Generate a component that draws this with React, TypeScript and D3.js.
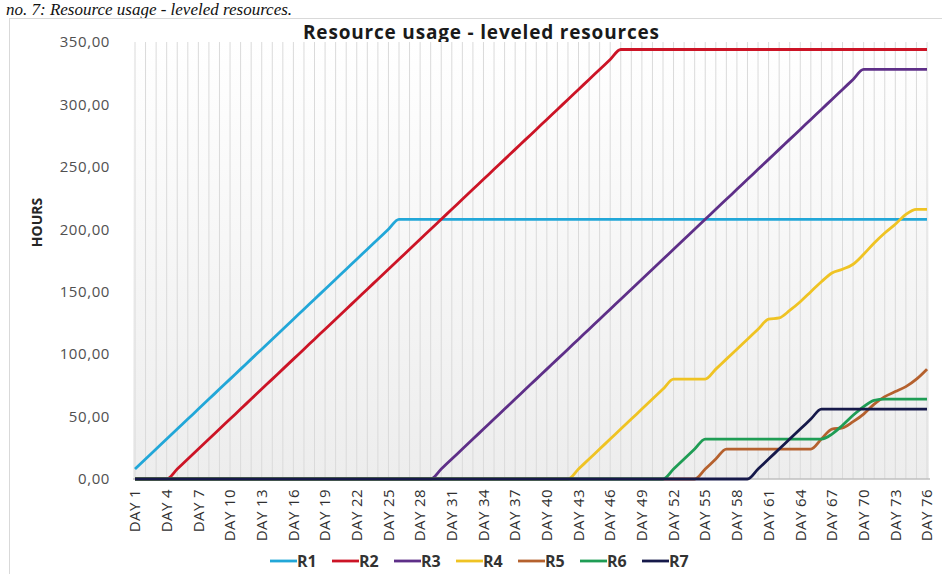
import * as d3 from 'd3'

// categories: DAY 1 .. DAY 76
const days = d3.range(1, 77).map(d => `DAY ${d}`)

const seriesNames = ['R1', 'R2', 'R3', 'R4', 'R5', 'R6', 'R7']
const seriesColors = ['#22a7d8', '#cc1426', '#5e2f88', '#efc323', '#b5612e', '#1f9d55', '#16194a']

// hours per day (rows of 10 days)
const r1 = [
  8, 16, 24, 32, 40, 48, 56, 64, 72, 80,
  88, 96, 104, 112, 120, 128, 136, 144, 152, 160,
  168, 176, 184, 192, 200, 208, 208, 208, 208, 208,
  208, 208, 208, 208, 208, 208, 208, 208, 208, 208,
  208, 208, 208, 208, 208, 208, 208, 208, 208, 208,
  208, 208, 208, 208, 208, 208, 208, 208, 208, 208,
  208, 208, 208, 208, 208, 208, 208, 208, 208, 208,
  208, 208, 208, 208, 208, 208,
]
const r2 = [
  0, 0, 0, 0, 8, 16, 24, 32, 40, 48,
  56, 64, 72, 80, 88, 96, 104, 112, 120, 128,
  136, 144, 152, 160, 168, 176, 184, 192, 200, 208,
  216, 224, 232, 240, 248, 256, 264, 272, 280, 288,
  296, 304, 312, 320, 328, 336, 344, 344, 344, 344,
  344, 344, 344, 344, 344, 344, 344, 344, 344, 344,
  344, 344, 344, 344, 344, 344, 344, 344, 344, 344,
  344, 344, 344, 344, 344, 344,
]
const r3 = [
  0, 0, 0, 0, 0, 0, 0, 0, 0, 0,
  0, 0, 0, 0, 0, 0, 0, 0, 0, 0,
  0, 0, 0, 0, 0, 0, 0, 0, 0, 8,
  16, 24, 32, 40, 48, 56, 64, 72, 80, 88,
  96, 104, 112, 120, 128, 136, 144, 152, 160, 168,
  176, 184, 192, 200, 208, 216, 224, 232, 240, 248,
  256, 264, 272, 280, 288, 296, 304, 312, 320, 328,
  328, 328, 328, 328, 328, 328,
]
const r4 = [
  0, 0, 0, 0, 0, 0, 0, 0, 0, 0,
  0, 0, 0, 0, 0, 0, 0, 0, 0, 0,
  0, 0, 0, 0, 0, 0, 0, 0, 0, 0,
  0, 0, 0, 0, 0, 0, 0, 0, 0, 0,
  0, 0, 8, 16, 24, 32, 40, 48, 56, 64,
  72, 80, 80, 80, 80, 88, 96, 104, 112, 120,
  128, 129, 135, 142, 150, 158, 165, 168, 172, 180,
  189, 197, 204, 212, 216, 216,
]
const r5 = [
  0, 0, 0, 0, 0, 0, 0, 0, 0, 0,
  0, 0, 0, 0, 0, 0, 0, 0, 0, 0,
  0, 0, 0, 0, 0, 0, 0, 0, 0, 0,
  0, 0, 0, 0, 0, 0, 0, 0, 0, 0,
  0, 0, 0, 0, 0, 0, 0, 0, 0, 0,
  0, 0, 0, 0, 8, 16, 24, 24, 24, 24,
  24, 24, 24, 24, 24, 32, 40, 41, 46, 52,
  60, 66, 70, 74, 80, 88,
]
const r6 = [
  0, 0, 0, 0, 0, 0, 0, 0, 0, 0,
  0, 0, 0, 0, 0, 0, 0, 0, 0, 0,
  0, 0, 0, 0, 0, 0, 0, 0, 0, 0,
  0, 0, 0, 0, 0, 0, 0, 0, 0, 0,
  0, 0, 0, 0, 0, 0, 0, 0, 0, 0,
  0, 8, 16, 24, 32, 32, 32, 32, 32, 32,
  32, 32, 32, 32, 32, 32, 36, 43, 51, 58,
  63, 64, 64, 64, 64, 64,
]
const r7 = [
  0, 0, 0, 0, 0, 0, 0, 0, 0, 0,
  0, 0, 0, 0, 0, 0, 0, 0, 0, 0,
  0, 0, 0, 0, 0, 0, 0, 0, 0, 0,
  0, 0, 0, 0, 0, 0, 0, 0, 0, 0,
  0, 0, 0, 0, 0, 0, 0, 0, 0, 0,
  0, 0, 0, 0, 0, 0, 0, 0, 0, 8,
  16, 24, 32, 40, 48, 56, 56, 56, 56, 56,
  56, 56, 56, 56, 56, 56,
]
const seriesValues = [r1, r2, r3, r4, r5, r6, r7]

const yTicks = [0, 50, 100, 150, 200, 250, 300, 350]

const W = 942
const H = 574
const plot = { left: 135, right: 927, top: 42, bottom: 479 }

const font = "'Open Sans', 'DejaVu Sans', sans-serif"

export default function App() {
  const x = d3.scalePoint<string>().domain(days).range([plot.left, plot.right])
  const y = d3.scaleLinear().domain([0, 350]).range([plot.bottom, plot.top])

  const fmt = d3.formatLocale({ decimal: ',', thousands: '.', grouping: [3], currency: ['', ''] }).format('.2f')

  const line = d3.line<number>()
    .x((_, i) => x(days[i])!)
    .y(d => y(d))
    .curve(d3.curveMonotoneX)

  const labelDays = days.filter((_, i) => i % 3 === 0)

  return (
    <svg width={W} height={H} style={{ position: 'absolute', left: 0, top: 0, background: '#fff' }}>
      <defs>
        <linearGradient id="plot-bg" x1="0" y1="0" x2="0" y2="1">
          <stop offset="0%" stopColor="#ffffff" />
          <stop offset="100%" stopColor="#ededed" />
        </linearGradient>
      </defs>

      {/* caption of the page above the chart */}
      <text x={6} y={15} fontFamily="'Liberation Serif', serif" fontStyle="italic" fontSize={17} fill="#111">
        no. 7: Resource usage - leveled resources.
      </text>

      {/* chart frame */}
      <rect x={9.5} y={18.5} width={940} height={570} fill="#fff" stroke="#d9d9d9" />

      <text x={481} y={39} textAnchor="middle" fontFamily={font} fontWeight="bold" fontSize={19}
        textLength={356} lengthAdjust="spacing" fill="#1a1a1a">
        Resource usage - leveled resources
      </text>

      {/* plot area */}
      <rect x={plot.left - 2} y={plot.top} width={plot.right - plot.left + 4} height={plot.bottom - plot.top} fill="url(#plot-bg)" />
      {days.map(d => (
        <line key={d} x1={x(d)} x2={x(d)} y1={plot.top} y2={plot.bottom} stroke="#dadada" strokeWidth={1} />
      ))}

      {/* y axis */}
      {yTicks.map(t => (
        <text key={t} x={110} y={y(t)} dy="0.35em" textAnchor="end" fontFamily={font} fontSize={15}
          letterSpacing={0.6} fill="#505050">
          {fmt(t)}
        </text>
      ))}
      <text transform={`translate(42,${(plot.top + plot.bottom) / 2 - 38}) rotate(-90)`} textAnchor="middle" fontFamily={font} fontWeight="bold" fontSize={14} fill="#262626">
        HOURS
      </text>

      {/* x axis */}
      <line x1={plot.left - 2} x2={plot.right + 3} y1={plot.bottom} y2={plot.bottom} stroke="#bfbfbf" strokeWidth={1.5} />
      {labelDays.map(d => (
        <text key={d} transform={`translate(${x(d)},${plot.bottom + 10}) rotate(-90)`} dy="0.35em" textAnchor="end" fontFamily={font} fontSize={15}
          letterSpacing={0.4} fill="#303030">
          {d}
        </text>
      ))}

      {/* series */}
      {seriesValues.map((vals, i) => (
        <path key={seriesNames[i]} d={line(vals)!} fill="none" stroke={seriesColors[i]} strokeWidth={2.8} strokeLinejoin="round" />
      ))}

      {/* legend */}
      {seriesNames.map((name, i) => {
        const lx = 270 + i * 62
        return (
          <g key={name} transform={`translate(${lx},561)`}>
            <line x1={0} x2={27} y1={0} y2={0} stroke={seriesColors[i]} strokeWidth={2.8} />
            <text x={27} dy="0.35em" fontFamily={font} fontWeight="bold" fontSize={16} fill="#333">
              {name}
            </text>
          </g>
        )
      })}
    </svg>
  )
}
